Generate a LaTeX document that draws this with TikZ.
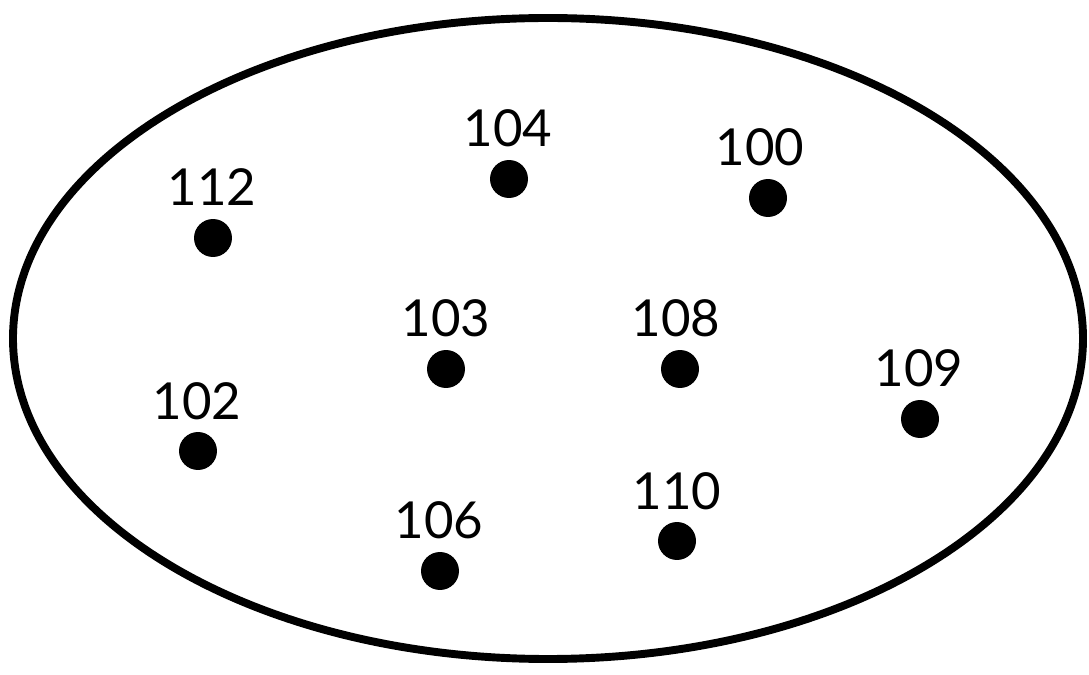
\documentclass[tikz,border=0pt]{standalone}
\usepackage{fontspec}
\setmainfont{Lato}
\usepackage{xcolor}

\tikzset{
  dot/.style={circle, fill=black, inner sep=0pt, minimum size=0.76cm},
  num/.style={inner sep=0pt, font=\fontsize{29}{34}\selectfont}
}

\begin{document}
\begin{tikzpicture}[x=0.02cm, y=-0.02cm]
            \useasboundingbox (0,0) rectangle (1089,675);

            % outer set
            \draw[line width=4.5pt] (548,338.5) ellipse [x radius=535, y radius=320.5];

            % top row
            \node[dot] (d112) at (213,238) {};
            \node[num] (t112) at (212,187) {112};
            \node[dot] (d104) at (509,179) {};
            \node[num] (t104) at (508,128) {104};
            \node[dot] (d100) at (768,198) {};
            \node[num] (t100) at (760,147) {100};

            % middle row
            \node[dot] (d103) at (446,369) {};
            \node[num] (t103) at (446,318) {103};
            \node[dot] (d108) at (680,369) {};
            \node[num] (t108) at (676,318) {108};
            \node[dot] (d109) at (920,419) {};
            \node[num] (t109) at (919,368) {109};
            \node[dot] (d102) at (198,451) {};
            \node[num] (t102) at (197,401) {102};

            % bottom row
            \node[dot] (d106) at (440,571) {};
            \node[num] (t106) at (439,520) {106};
            \node[dot] (d110) at (677,541) {};
            \node[num] (t110) at (677,491) {110};
        \end{tikzpicture}
\end{document}
